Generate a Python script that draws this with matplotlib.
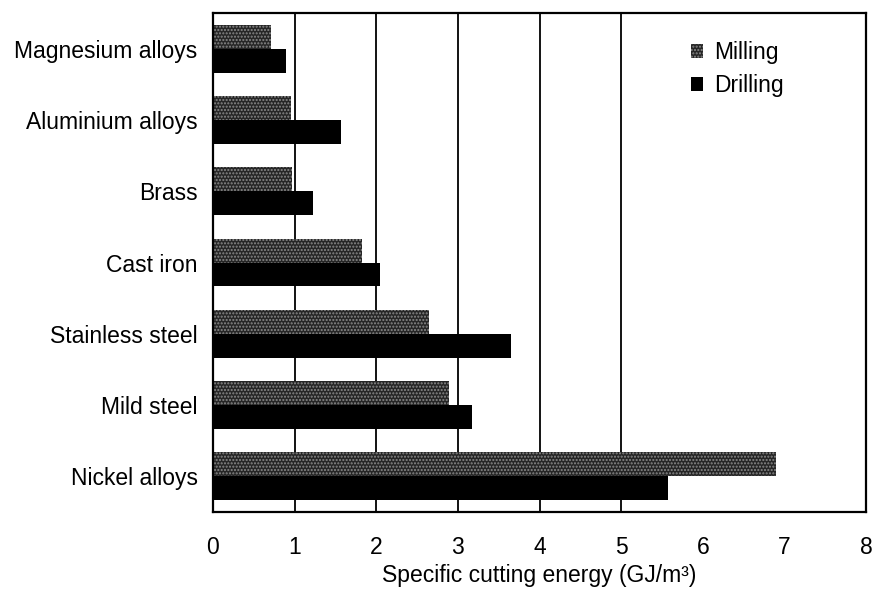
import numpy as np
import matplotlib.pyplot as plt
from matplotlib.patches import Patch

plt.rcParams['font.family'] = ['Liberation Sans', 'DejaVu Sans']

materials = ["Magnesium alloys", "Aluminium alloys", "Brass", "Cast iron",
             "Stainless steel", "Mild steel", "Nickel alloys"]
milling = [0.71, 0.96, 0.97, 1.83, 2.64, 2.89, 6.90]
drilling = [0.90, 1.57, 1.22, 2.04, 3.65, 3.17, 5.57]
xticks = [0, 1, 2, 3, 4, 5, 6, 7, 8]
grid_at = [1, 2, 3, 4, 5]

fs = 16.5
fig = plt.figure(figsize=(8.74, 5.93), dpi=100)
ax = fig.add_axes([0.2437, 0.1366, 0.7473, 0.8414])

y = np.arange(len(materials))
h = 0.335
for g in grid_at:
    ax.axvline(g, color='black', lw=1.3, zorder=1)

ax.barh(y - h / 2, milling, height=h, color='#262626', edgecolor='#8a8a8a',
        hatch='.....', lw=0, zorder=2)
ax.barh(y + h / 2, drilling, height=h, color='black', lw=0, zorder=2)

ax.set_xlim(0, 8)
ax.set_ylim(len(materials) - 0.5, -0.5)
ax.set_yticks(y)
ax.set_yticklabels(materials, fontsize=fs)
ax.set_xticks(xticks)
ax.set_xticklabels([str(t) for t in xticks], fontsize=fs)
ax.tick_params(axis='both', length=0)
ax.tick_params(axis='x', pad=17)
ax.tick_params(axis='y', pad=11)
ax.set_xlabel("Specific cutting energy (GJ/m³)", fontsize=fs, labelpad=4)
for s in ax.spines.values():
    s.set_linewidth(1.6)

handles = [Patch(facecolor='#262626', edgecolor='#8a8a8a', hatch='.....', lw=0, label='Milling'),
           Patch(facecolor='black', lw=0, label='Drilling')]
ax.legend(handles=handles, loc='upper left', bbox_to_anchor=(0.70, 0.985), frameon=False,
          fontsize=fs, handlelength=0.55, handleheight=0.55, handletextpad=0.45, labelspacing=0.45)

fig.savefig("out.png", dpi=100)
